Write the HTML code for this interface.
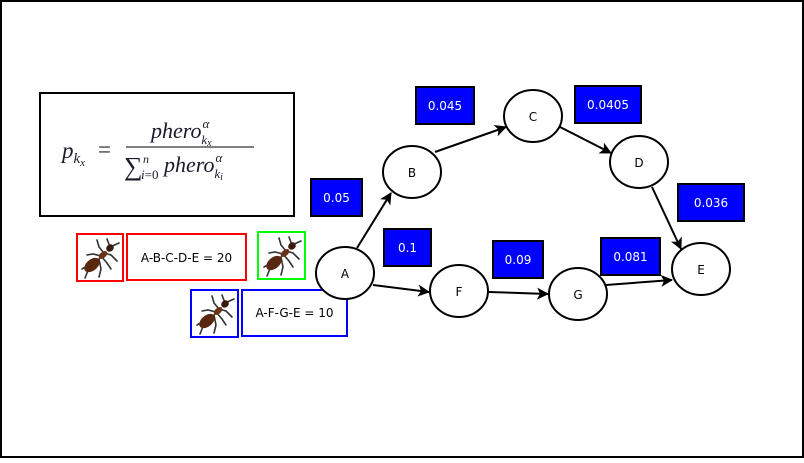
<!DOCTYPE html>
<html><head><meta charset="utf-8"><style>
body{margin:0;width:804px;height:458px;overflow:hidden;background:#fff;font-family:"Liberation Sans","DejaVu Sans",sans-serif}
</style></head><body>
<svg width="804" height="458" xmlns="http://www.w3.org/2000/svg" font-family="DejaVu Sans, Liberation Sans, sans-serif">
<defs>
<marker id="ar" markerWidth="12" markerHeight="12" refX="11" refY="6" orient="auto" markerUnits="userSpaceOnUse">
<path d="M0,0 L12,6 L0,12 L3,6 z" fill="#000"/></marker>
<g id="ant">
<g stroke="#333" stroke-width="1.6" fill="none" stroke-linecap="round">
<path d="M33,12 L30,4"/><path d="M33,12 L42,8"/>
<path d="M27,18 L22,12 L20,5"/><path d="M27,18 L34,20 L40,26"/>
<path d="M24,21 L16,19 L10,20"/><path d="M24,21 L30,28 L34,34"/>
<path d="M22,24 L12,30 L5,34"/><path d="M22,24 L24,34 L22,42"/>
<path d="M12,33 L8,43"/>
</g>
<ellipse cx="33" cy="13" rx="4" ry="3.5" fill="#3a1a0c" transform="rotate(-40 33 13)"/>
<ellipse cx="26" cy="20" rx="5" ry="3" fill="#6a3216" transform="rotate(-40 26 20)"/>
<ellipse cx="15" cy="30" rx="9" ry="5.5" fill="#5a2810" transform="rotate(-40 15 30)"/>
</g>
</defs>
<rect x="1" y="1" width="802" height="456" fill="#fff" stroke="#000" stroke-width="2"/>
<rect x="40" y="93" width="254" height="123" fill="#fff" stroke="#000" stroke-width="2"/>
<g font-family="Liberation Serif, serif" font-style="italic" fill="#1a1a2a">
<text x="62" y="158" font-size="23">p<tspan font-size="15" dy="5">k</tspan><tspan font-size="11" dy="3">x</tspan></text>
<text x="98" y="157" font-size="23" font-style="normal">=</text>
<text x="151" y="138" font-size="22">phero<tspan font-size="13" dx="1" dy="-10">α</tspan><tspan font-size="13" dx="-8" dy="16">k</tspan><tspan font-size="10" dy="2">x</tspan></text>
<line x1="126" y1="147" x2="254" y2="147" stroke="#000" stroke-width="1"/>
<text x="124" y="175" font-size="26" font-style="normal">∑</text>
<text x="143" y="163" font-size="12">n</text>
<text x="141" y="179" font-size="13">i<tspan font-style="normal">=0</tspan></text>
<text x="164" y="172" font-size="22">phero<tspan font-size="13" dx="1" dy="-10">α</tspan><tspan font-size="13" dx="-8" dy="16">k</tspan><tspan font-size="10" dy="2">i</tspan></text>
</g>
<rect x="77" y="234" width="46" height="47" fill="#fff" stroke="#f00" stroke-width="2"/>
<use href="#ant" x="77" y="235"/>
<rect x="127" y="234" width="119" height="46" fill="#fff" stroke="#f00" stroke-width="2"/>
<text x="186.5" y="262" font-size="12" text-anchor="middle">A-B-C-D-E = 20</text>
<rect x="258" y="232" width="47" height="47" fill="#fff" stroke="#0f0" stroke-width="2"/>
<use href="#ant" x="259" y="233"/>
<rect x="191" y="290" width="47" height="47" fill="#fff" stroke="#00f" stroke-width="2"/>
<use href="#ant" x="192" y="291"/>
<rect x="242" y="290" width="105" height="46" fill="#fff" stroke="#00f" stroke-width="2"/>
<text x="294.5" y="317" font-size="12" text-anchor="middle">A-F-G-E = 10</text>
<g stroke="#000" stroke-width="2" fill="none" marker-end="url(#ar)">
<line x1="357" y1="248" x2="391" y2="193"/>
<line x1="435" y1="152" x2="506" y2="127"/>
<line x1="560" y1="127" x2="611" y2="153"/>
<line x1="652" y1="187" x2="681" y2="249"/>
<line x1="373" y1="285" x2="429" y2="292"/>
<line x1="489" y1="292" x2="548" y2="294"/>
<line x1="606" y1="285" x2="672" y2="280"/>
</g>
<g fill="#fff" stroke="#000" stroke-width="2">
<ellipse cx="345" cy="273" rx="29" ry="26"/>
<ellipse cx="412" cy="172" rx="29" ry="26"/>
<ellipse cx="533" cy="116" rx="29" ry="26"/>
<ellipse cx="639" cy="162" rx="29" ry="26"/>
<ellipse cx="701" cy="269" rx="29" ry="26"/>
<ellipse cx="459" cy="291" rx="29" ry="26"/>
<ellipse cx="578" cy="294" rx="29" ry="26"/>
</g>
<g font-size="12" text-anchor="middle">
<text x="345" y="278">A</text><text x="412" y="177">B</text><text x="533" y="121">C</text>
<text x="639" y="167">D</text><text x="701" y="274">E</text><text x="459" y="296">F</text><text x="578" y="299">G</text>
</g>
<g fill="#00f" stroke="#000" stroke-width="2">
<rect x="311" y="179" width="51" height="37"/>
<rect x="416" y="87" width="58" height="37"/>
<rect x="575" y="86" width="66" height="37"/>
<rect x="678" y="184" width="66" height="37"/>
<rect x="384" y="229" width="47" height="37"/>
<rect x="493" y="241" width="50" height="37"/>
<rect x="601" y="238" width="59" height="37"/>
</g>
<g fill="#fff" font-size="12" text-anchor="middle">
<text x="336.5" y="202">0.05</text><text x="445" y="110">0.045</text><text x="608" y="109">0.0405</text>
<text x="711" y="207">0.036</text><text x="407.5" y="252">0.1</text><text x="518" y="264">0.09</text><text x="630.5" y="261">0.081</text>
</g>
</svg>
</body></html>
